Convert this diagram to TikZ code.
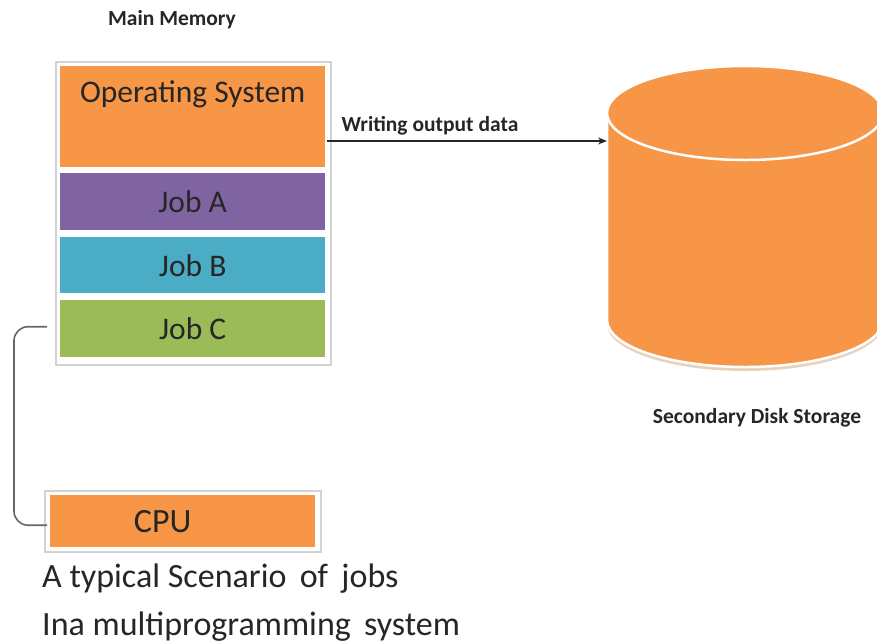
\documentclass[tikz,border=0pt]{standalone}
\usepackage{fontspec}
\setmainfont{Carlito}
\usetikzlibrary{arrows.meta}
\definecolor{osorange}{HTML}{F79646}
\definecolor{jobpurple}{HTML}{8064A2}
\definecolor{jobblue}{HTML}{4BACC6}
\definecolor{jobgreen}{HTML}{9BBB59}
\definecolor{txt}{HTML}{262626}
\begin{document}
\begin{tikzpicture}[x=1pt,y=-1pt,
  block/.style={rectangle, inner sep=0pt, minimum width=265, anchor=north west, text=txt},
  bigtxt/.style={font=\fontsize{31.5}{36}\selectfont, text=txt},
  hugetxt/.style={font=\fontsize{34}{40}\selectfont, text=txt},
  smalltxt/.style={font=\bfseries\fontsize{21.5}{25}\selectfont, text=txt},
  frame/.style={draw=gray!35, fill=white, line width=1.2pt},
  conn/.style={draw=gray!80!black, line width=1.6pt, rounded corners=14pt}]
\useasboundingbox (0,0) rectangle (877,643);
\begin{scope}
\clip (0,0) rectangle (877,643);
% memory stack
\draw[frame] (56,62) rectangle (331,365);
\node[block, fill=osorange, minimum height=101,
  label={[bigtxt, anchor=north, yshift=-11pt]north:Operating System}] (os) at (60,66) {};
\node[block, fill=jobpurple, minimum height=57, bigtxt] (joba) at (60,173) {Job A};
\node[block, fill=jobblue, minimum height=56, bigtxt] (jobb) at (60,237) {Job B};
\node[block, fill=jobgreen, minimum height=57, bigtxt] (jobc) at (60,300) {Job C};
\node[smalltxt] (mm) at (172,20) {Main Memory};
% disk
\fill[brown!35] (607,122) -- (607,324) arc[start angle=180, end angle=0, x radius=138, y radius=47] -- (883,122) -- cycle;
\filldraw[fill=osorange, draw=white, line width=2.5pt] (607,113) -- (607,320) arc[start angle=180, end angle=0, x radius=138, y radius=47] -- (883,113);
\filldraw[fill=osorange, draw=white, line width=2.5pt] (745,113) ellipse[x radius=138, y radius=47];
\coordinate (disk) at (607,141);
\node[smalltxt] (dl) at (757,418) {Secondary Disk Storage};
% arrow
\coordinate (osout) at (327,141);
\draw[-{Stealth[length=9pt,width=7pt]}, line width=1.1pt, draw=black!85] (osout) -- (disk)
  node[pos=0.05, above=5pt, anchor=south west, smalltxt, inner sep=0pt] (wl) {Writing output data};
% CPU
\draw[frame] (45,491) rectangle (321,552);
\node[block, fill=osorange, minimum height=52,
  label={[hugetxt, xshift=-20pt]center:CPU}] (cpu) at (50,495) {};
% connector
\draw[conn] ([xshift=-13pt, yshift=2pt]jobc.west) -| (14,420) |- ([xshift=-3pt, yshift=-4pt]cpu.west);
% caption
\node[hugetxt, anchor=base west, inner sep=0pt] (c1) at (42,587) {A typical Scenario\, of\, jobs};
\node[hugetxt, anchor=base west, inner sep=0pt] (c2) at (42,635) {Ina multiprogramming\, system};
\end{scope}
\end{tikzpicture}
\end{document}
